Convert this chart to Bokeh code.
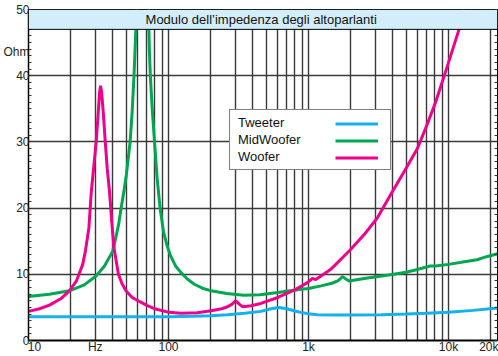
import math
from bokeh.plotting import figure
from bokeh.models import (Range1d, FixedTicker, LinearAxis, Legend, LegendItem,
                          BoxAnnotation, Label)
from bokeh.embed import file_html
from bokeh.resources import INLINE

# ---------------- data ----------------
tweeter_f = [10, 20, 50, 100, 150, 200, 264, 350, 457, 540, 616, 700, 800, 880,
             1000, 1155, 1500, 2000, 3340, 5000, 7000, 10000, 15000, 22400]
tweeter_z = [3.6, 3.6, 3.6, 3.6, 3.65, 3.75, 3.9, 4.1, 4.4, 4.8, 5.0, 4.8, 4.45, 4.25,
             4.05, 3.9, 3.85, 3.85, 3.9, 4.0, 4.1, 4.25, 4.55, 4.9]

mid_f = [10, 14.1, 19.6, 25, 30.4, 35, 40, 41.5, 44, 45.9, 48, 50, 53.2, 55, 56.7,
         58.5, 60, 64, 68, 71, 73, 74.2, 76.5, 79.5, 83, 87.1, 92, 97.8, 103, 112,
         123, 137, 153, 175, 202, 260, 345, 450, 604, 880, 1000, 1230, 1470, 1620,
         1700, 1750, 1850, 1950, 2500, 3640, 5000, 5800, 7400, 8100, 10000, 13000,
         16000, 19000, 22400]
mid_z = [6.65, 7.0, 7.5, 8.4, 9.75, 11.3, 13.5, 15, 17.5, 20, 22.5, 25, 30, 34.5, 40,
         47, 55, 75, 75, 55, 44, 40, 35, 30, 24.5, 20, 16.5, 14.3, 12.9, 11.3,
         10.25, 9.25, 8.5, 7.9, 7.5, 7.1, 6.85, 6.9, 7.25, 7.75, 7.85, 8.25, 8.65, 9.0,
         9.4, 9.65, 9.3, 9.0, 9.35, 9.85, 10.3, 10.65, 11.25, 11.25, 11.5, 11.9,
         12.2, 12.7, 13.1]

woofer_f = [10, 12, 14.1, 17, 19.6, 22, 24.4, 25.5, 27, 28.1, 29.5, 30.5, 31.5, 32.2,
            32.7, 33.3, 34.2, 35.3, 36.5, 37.9, 39.3, 40.8, 43.9, 46.5, 49.7, 55, 62,
            70, 81, 101, 123, 160, 202, 240, 264, 285, 302, 320, 339, 390, 457, 604,
            790, 983, 1067, 1125, 1230, 1444, 2000, 2500, 3100, 3860, 4970, 6000,
            7000, 8090, 9500, 11900, 13500]
woofer_z = [4.4, 4.8, 5.35, 6.3, 7.5, 9.0, 11.5, 13.5, 17, 22.5, 27, 30.2, 34.5, 37.5,
            38.5, 37.5, 34.5, 30.2, 26, 22.5, 18, 14, 10, 8.6, 7.5, 6.5, 5.9,
            5.3, 4.75, 4.25, 4.1, 4.2, 4.5, 4.8, 5.1, 5.5, 6.0, 5.5, 5.1, 5.25, 5.6, 6.5,
            7.6, 8.75, 9.4, 9.2, 9.75, 10.75, 13.75, 16, 18.5, 22, 26, 29,
            32.5, 36, 40.5, 47, 52]

series_names = ["Tweeter", "MidWoofer", "Woofer"]
series_colors = ["#14b1ec", "#00a650", "#ec008c"]

x_tick_values = [10, 30, 100, 1000, 10000, 20000]
x_tick_labels = ["\u2002\u200210", "Hz", "100", "1k", "10k", "20k"]
x_grid_values = [20, 30, 40, 50, 60, 70, 80, 90, 100,
                 200, 300, 400, 500, 600, 700, 800, 900, 1000,
                 2000, 3000, 4000, 5000, 6000, 7000, 8000, 9000, 10000, 20000]
y_tick_values = [0, 10, 20, 30, 40, 43.6, 50]
y_tick_labels = ["0", "10", "20", "30", "40", "Ohm", "50"]
y_grid_values = [10, 20, 30, 40]
y_minor_values = list(range(0, 51))

title_text = "Modulo  dell\u2019impedenza degli altoparlanti"

X_MIN, X_MAX = 10, 22400
Y_MIN, Y_MAX = 0, 50
BAND_BOTTOM = 47

FONT = "Liberation Sans"

# ---------------- figure ----------------
p = figure(width=498, height=356, x_axis_type="log",
           x_range=Range1d(X_MIN, X_MAX), y_range=Range1d(Y_MIN, Y_MAX),
           output_backend="svg", toolbar_location=None,
           min_border_left=27, min_border_right=1, min_border_top=9,
           min_border_bottom=0)
p.background_fill_color = "white"
p.border_fill_color = "white"
p.outline_line_color = "black"
p.outline_line_width = 1

# grid
p.xgrid.ticker = FixedTicker(ticks=x_grid_values)
p.ygrid.ticker = FixedTicker(ticks=y_grid_values)
for g in (p.xgrid, p.ygrid):
    g.grid_line_color = "#3a3a3a"
    g.grid_line_width = 1.4

# x axis
xa = p.xaxis[0]
xa.ticker = FixedTicker(ticks=x_tick_values)
xa.major_label_overrides = {v: l for v, l in zip(x_tick_values, x_tick_labels)}
xa.major_tick_in = 0
xa.major_tick_out = 0
xa.minor_tick_in = 0
xa.minor_tick_out = 0
xa.axis_line_width = 2
xa.axis_line_color = "black"
xa.major_label_standoff = -1
xa.major_label_text_font = FONT
xa.major_label_text_font_size = "12px"
xa.major_label_text_color = "#222222"

# y axis
ya = p.yaxis[0]
ya.ticker = FixedTicker(ticks=y_tick_values, minor_ticks=y_minor_values)
ya.major_label_overrides = {v: l for v, l in zip(y_tick_values, y_tick_labels)}
ya.major_tick_in = 0
ya.major_tick_out = 0
ya.minor_tick_in = 3
ya.minor_tick_out = 0
ya.minor_tick_line_color = "#333333"
ya.axis_line_width = 1.5
ya.axis_line_color = "black"
ya.major_label_standoff = -1
ya.major_label_text_font = FONT
ya.major_label_text_font_size = "12px"
ya.major_label_text_color = "#222222"

ra = LinearAxis(ticker=FixedTicker(ticks=y_grid_values, minor_ticks=y_minor_values),
                major_tick_in=0, major_tick_out=0, minor_tick_in=3, minor_tick_out=0,
                minor_tick_line_color="#333333", axis_line_color="black",
                major_label_text_alpha=0, major_label_text_font_size="1px",
                major_label_standoff=0)
p.add_layout(ra, "right")

# curves
rends = []
for fx, zy, c in zip([tweeter_f, mid_f, woofer_f], [tweeter_z, mid_z, woofer_z], series_colors):
    r = p.line(fx, zy, line_color=c, line_width=3)
    rends.append(r)

# title band
band = BoxAnnotation(left=X_MIN, right=X_MAX, bottom=BAND_BOTTOM, top=Y_MAX,
                     fill_color="#d2eefa", fill_alpha=1.0,
                     line_color="black", line_width=1, line_alpha=1.0)
p.add_layout(band)
p.add_layout(Label(x=math.sqrt(X_MIN * X_MAX), y=(BAND_BOTTOM + Y_MAX) / 2,
                   text=title_text, text_align="center", text_baseline="middle",
                   text_font=FONT, text_font_size="13px", text_color="#111111"))

# legend: text box (labels on the left) ...
leg_text = Legend(items=[LegendItem(label=n, renderers=[r]) for n, r in zip(series_names, rends)],
                  location=(201, 170), orientation="vertical",
                  glyph_width=0, glyph_height=17, label_height=17, label_width=148,
                  label_standoff=4, padding=4, spacing=0, margin=0,
                  border_line_color="black", border_line_width=1,
                  background_fill_color="white", background_fill_alpha=1.0,
                  label_text_font=FONT, label_text_font_size="13px",
                  label_text_color="#111111")
p.add_layout(leg_text)
# ... and line samples on the right
leg_lines = Legend(items=[LegendItem(label=n, renderers=[r]) for n, r in zip(series_names, rends)],
                   location=(303, 170), orientation="vertical",
                   glyph_width=43, glyph_height=17, label_height=17, label_width=0,
                   label_standoff=0, padding=4, spacing=0, margin=0,
                   border_line_alpha=0, background_fill_alpha=0,
                   label_text_alpha=0, label_text_font_size="1px")
p.add_layout(leg_lines)

open("out.html", "w").write(file_html(p, INLINE))
